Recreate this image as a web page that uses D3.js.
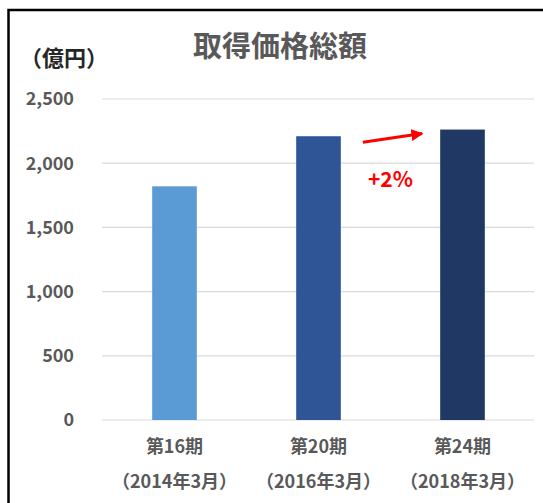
<!DOCTYPE html>
<html>
<head>
<meta charset="utf-8">
<script src="https://cdn.jsdelivr.net/npm/d3@7"></script>
<style>
  body { margin: 0; background: #fff; }
  svg { display: block; font-family: 'Noto Sans CJK JP', 'Noto Sans', sans-serif; }
</style>
</head>
<body>
<svg class="svg" width="543" height="503"></svg>
<script>
// data
const periods = ['第16期', '第20期', '第24期'];
const dates = ['（2014年3月）', '（2016年3月）', '（2018年3月）'];
const values = [1820, 2210, 2262];
const barColors = ['#5b9bd5', '#2f5597', '#203864'];
const yTicks = [0, 500, 1000, 1500, 2000, 2500];
const growthLabel = '+2%';

const textColor = '#595959';

const svg = d3.select('.svg');

// frame (only left and top edges are visible in the crop)
svg.append('rect')
  .attr('x', 8.5)
  .attr('y', 10)
  .attr('width', 600)
  .attr('height', 600)
  .attr('fill', 'none')
  .attr('stroke', '#000')
  .attr('stroke-width', 2.5);

const x = d3.scaleBand()
  .domain(periods)
  .range([102.5, 534.5])
  .paddingInner(0.69)
  .paddingOuter(0.345);

const y = d3.scaleLinear()
  .domain([0, 2500])
  .range([420, 99]);

// gridlines
svg.append('g')
  .selectAll('line')
  .data(yTicks)
  .join('line')
  .attr('x1', 102)
  .attr('x2', 534)
  .attr('y1', d => y(d))
  .attr('y2', d => y(d))
  .attr('stroke', '#d9d9d9')
  .attr('stroke-width', 1.2);

// y tick labels
svg.append('g')
  .selectAll('text')
  .data(yTicks)
  .join('text')
  .attr('x', 74)
  .attr('y', d => y(d))
  .attr('dy', '0.35em')
  .attr('text-anchor', 'end')
  .attr('fill', textColor)
  .attr('font-size', 18)
  .attr('font-weight', 'bold')
  .text(d3.format(','));

// bars
svg.append('g')
  .selectAll('rect')
  .data(values)
  .join('rect')
  .attr('x', (d, i) => x(periods[i]))
  .attr('width', x.bandwidth())
  .attr('y', d => y(d))
  .attr('height', d => y(0) - y(d))
  .attr('fill', (d, i) => barColors[i]);

// x labels, two lines
const xl = svg.append('g')
  .selectAll('g')
  .data(periods)
  .join('g')
  .attr('transform', d => `translate(${x(d) + x.bandwidth() / 2},0)`);

xl.append('text')
  .attr('y', 447)
  .attr('dy', '0.35em')
  .attr('text-anchor', 'middle')
  .attr('fill', textColor)
  .attr('font-size', 18)
  .attr('font-weight', 'bold')
  .text(d => d);

xl.append('text')
  .attr('y', 482)
  .attr('dy', '0.35em')
  .attr('text-anchor', 'middle')
  .attr('fill', textColor)
  .attr('font-size', 18)
  .attr('font-weight', 'bold')
  .text((d, i) => dates[i]);

// title and unit
svg.append('text')
  .attr('x', 280)
  .attr('y', 47)
  .attr('dy', '0.35em')
  .attr('text-anchor', 'middle')
  .attr('fill', textColor)
  .attr('font-size', 29)
  .attr('font-weight', 'bold')
  .text('取得価格総額');

svg.append('text')
  .attr('x', 64)
  .attr('y', 58)
  .attr('dy', '0.35em')
  .attr('text-anchor', 'middle')
  .attr('fill', '#262626')
  .attr('font-size', 22)
  .attr('font-weight', 'bold')
  .text('（億円）');

// growth arrow between the last two bars
const defs = svg.append('defs');
defs.append('marker')
  .attr('id', 'arrow')
  .attr('viewBox', '0 0 10 10')
  .attr('refX', 9)
  .attr('refY', 5)
  .attr('markerWidth', 4)
  .attr('markerHeight', 4)
  .attr('orient', 'auto')
  .append('path')
  .attr('d', 'M0,0 L10,5 L0,10 z')
  .attr('fill', '#ff0000');

const x2 = x(periods[1]) + x.bandwidth();
const x3 = x(periods[2]);
svg.append('line')
  .attr('x1', x2 + 22)
  .attr('y1', y(values[1]) + 6)
  .attr('x2', x3 - 18)
  .attr('y2', y(values[2]) + 4)
  .attr('stroke', '#ff0000')
  .attr('stroke-width', 3)
  .attr('marker-end', 'url(#arrow)');

svg.append('text')
  .attr('x', (x2 + x3) / 2)
  .attr('y', 180)
  .attr('dy', '0.35em')
  .attr('text-anchor', 'middle')
  .attr('fill', '#ff0000')
  .attr('font-size', 21)
  .attr('font-weight', 'bold')
  .text(growthLabel);
</script>
</body>
</html>
